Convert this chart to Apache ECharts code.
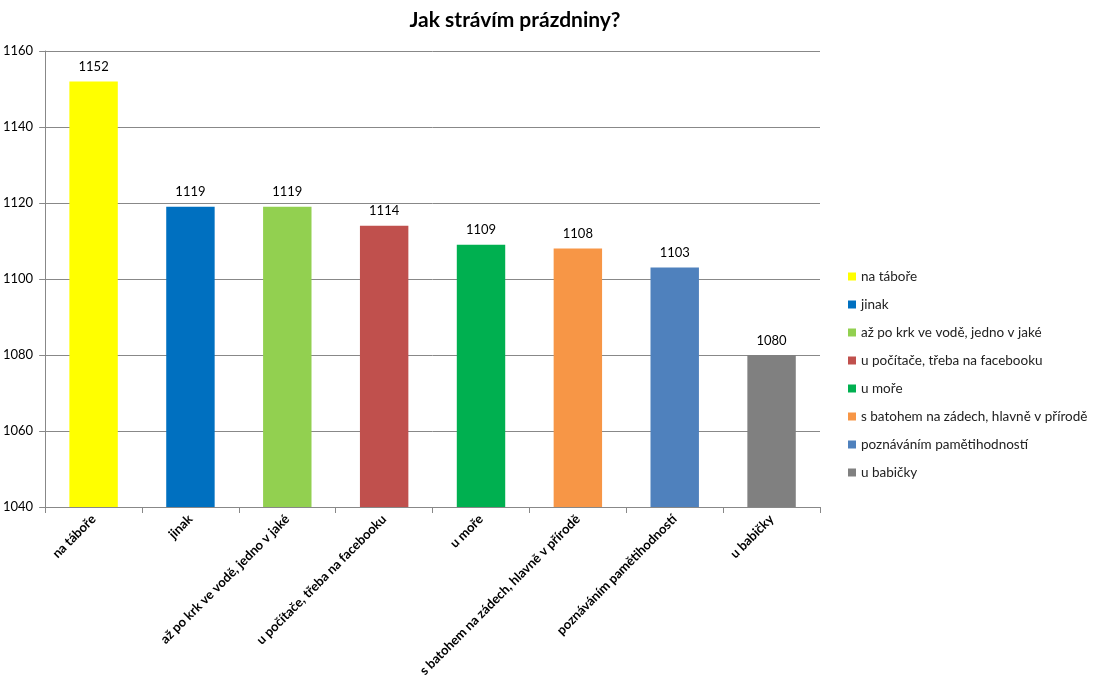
<!DOCTYPE html>
<html lang="cs">
<head>
    <meta charset="UTF-8">
    <title>Jak strávím prázdniny?</title>
    <script type="text/javascript" src="https://cdn.jsdelivr.net/npm/echarts@6/dist/echarts.min.js"></script>
</head>
<body style="margin:0">
<div id="chartmain" style="width:1103px;height:700px"></div>
<script>
    var categories = ['na táboře', 'jinak', 'až po krk ve vodě, jedno v jaké', 'u počítače, třeba na facebooku',
        'u moře', 's batohem na zádech, hlavně v přírodě', 'poznáváním pamětihodností', 'u babičky'];
    var values = [1152, 1119, 1119, 1114, 1109, 1108, 1103, 1080];
    var colors = ['#FFFF00', '#0070C0', '#92D050', '#C0504D', '#00B050', '#F79646', '#4F81BD', '#808080'];
    var yMin = 1040, yMax = 1160, yStep = 20;

    var font = 'Lato, "Open Sans", sans-serif';

    // one series per category so every bar gets its own legend entry
    var series = [];
    for (var i = 0; i < categories.length; i++) {
        var d = [];
        for (var j = 0; j < categories.length; j++) {
            d.push(j === i ? values[i] : null);
        }
        series.push({
            name: categories[i],
            type: 'bar',
            stack: 'all',
            barWidth: '50%',
            data: d,
            itemStyle: {color: colors[i]},
            label: {
                show: true,
                position: 'top',
                distance: 8,
                color: '#000',
                fontSize: 13,
                fontFamily: font
            }
        });
    }

    var option = {
        animation: false,
        backgroundColor: '#fff',
        title: {
            text: 'Jak strávím prázdniny?',
            left: 510,
            textAlign: 'center',
            top: 5,
            textStyle: {fontSize: 21, fontWeight: 'bold', color: '#000', fontFamily: font}
        },
        legend: {
            orient: 'vertical',
            left: 843,
            top: 264,
            icon: 'rect',
            itemWidth: 8,
            itemHeight: 8,
            itemGap: 13,
            data: categories,
            textStyle: {fontSize: 13.5, color: '#222', fontFamily: font, lineHeight: 15}
        },
        grid: {left: 44, right: 283, top: 51, bottom: 193},
        xAxis: {
            type: 'category',
            data: categories,
            axisLine: {lineStyle: {color: '#888'}},
            axisTick: {show: true, alignWithLabel: false, length: 6, lineStyle: {color: '#888'}},
            axisLabel: {
                rotate: 45,
                interval: 0,
                margin: 10,
                color: '#000',
                fontSize: 13,
                fontWeight: 'bold',
                fontFamily: font
            }
        },
        yAxis: {
            type: 'value',
            min: yMin,
            max: yMax,
            interval: yStep,
            axisLine: {show: true, lineStyle: {color: '#888'}},
            axisTick: {show: true, inside: false, length: 6, lineStyle: {color: '#888'}},
            axisLabel: {
                color: '#000',
                fontSize: 13,
                margin: 12,
                fontFamily: font,
                formatter: function (v) { return String(v); }
            },
            splitLine: {lineStyle: {color: '#888', width: 1}}
        },
        series: series
    };

    var myChart = echarts.init(document.getElementById('chartmain'));
    myChart.setOption(option);
</script>
</body>
</html>
